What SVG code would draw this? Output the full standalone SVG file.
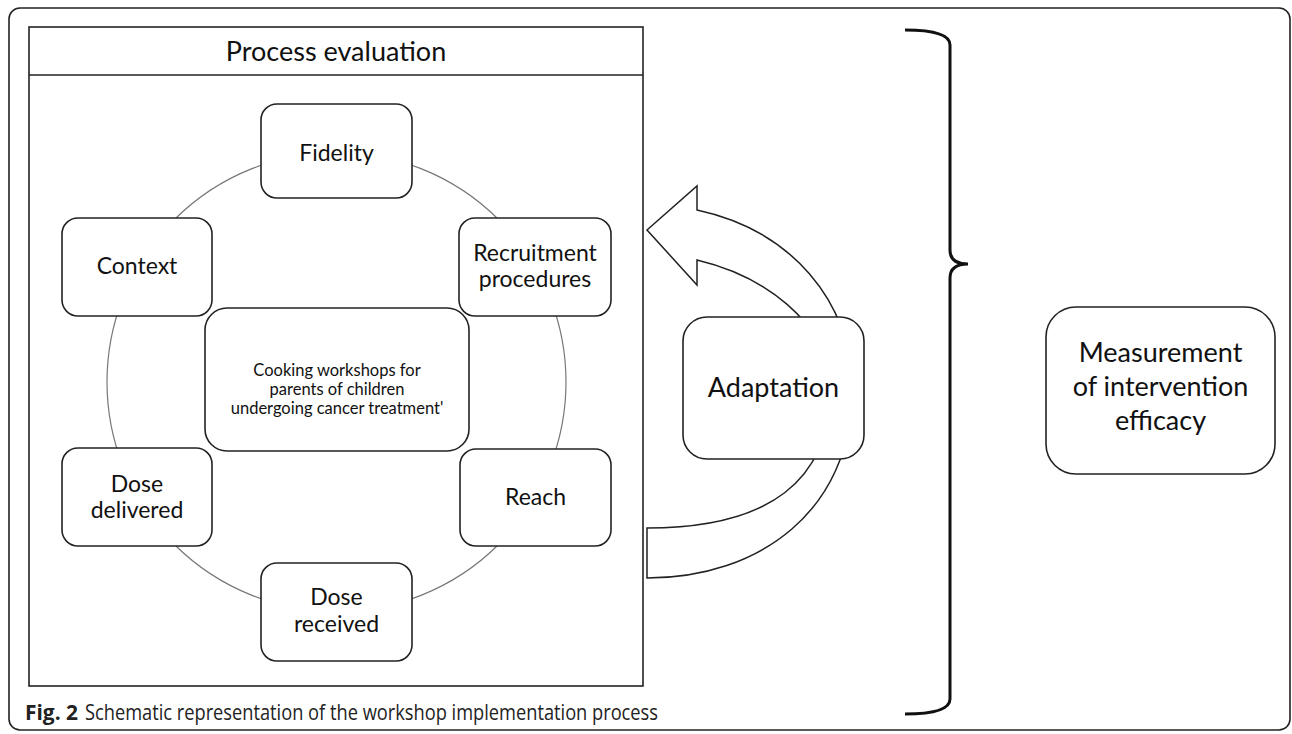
<svg xmlns="http://www.w3.org/2000/svg" width="1292" height="734" viewBox="0 0 1292 734">
<style>
.box{fill:#fff;stroke:#222;stroke-width:1.6}
.lbl{font-family:Lato,"Open Sans",sans-serif;fill:#111;text-anchor:middle}
.s23{font-size:23px}
.s27{font-size:27px}
.s16{font-size:16.5px}
.cap{font-family:"Open Sans","Noto Sans",sans-serif;font-size:21px;fill:#222}
</style>
<rect x="0" y="0" width="1292" height="734" fill="#fff"/>
<rect x="9" y="8" width="1281" height="722" rx="11" fill="none" stroke="#222" stroke-width="1.6"/>

<g id="process-evaluation">
<rect x="29" y="27" width="614" height="659" fill="#fff" stroke="#222" stroke-width="1.6"/>
<line x1="29" y1="75" x2="643" y2="75" stroke="#222" stroke-width="1.6"/>
<text class="lbl s27" x="336" y="61">Process evaluation</text>
</g>

<g id="connectors">
<circle cx="336.5" cy="382" r="229.5" fill="none" stroke="#777" stroke-width="1.2"/>
<path d="M647,578 C760,578 852,510 852,390 C852,300 790,230 697,210 L697,186 L647,230 L697,285 L697,260 C760,275 830,320 830,390 C830,480 770,528 647,528 Z" fill="#fff" stroke="#222" stroke-width="1.5" stroke-linejoin="miter"/>
<path d="M905,30 Q950,30 950,45 L950,250 Q950,264 968,264 Q950,264 950,278 L950,699 Q950,714 905,714" fill="none" stroke="#111" stroke-width="3"/>
</g>

<g id="fidelity">
<rect class="box" x="261" y="104" width="151" height="94" rx="16"/>
<text class="lbl s23" x="336.5" y="161">Fidelity</text>
</g>

<g id="context">
<rect class="box" x="62" y="218" width="150" height="98" rx="16"/>
<text class="lbl s23" x="137" y="274">Context</text>
</g>

<g id="recruitment">
<rect class="box" x="459" y="218" width="152" height="98" rx="16"/>
<text class="lbl s23" x="535" y="261">Recruitment</text>
<text class="lbl s23" x="535" y="287">procedures</text>
</g>

<g id="center">
<rect class="box" x="205" y="308" width="264" height="143" rx="22"/>
<text class="lbl s16" x="337" y="376">Cooking workshops for</text>
<text class="lbl s16" x="337" y="395">parents of children</text>
<text class="lbl s16" x="337" y="414">undergoing cancer treatment'</text>
</g>

<g id="reach">
<rect class="box" x="460" y="449" width="151" height="97" rx="16"/>
<text class="lbl s23" x="535.5" y="505">Reach</text>
</g>

<g id="dose-delivered">
<rect class="box" x="62" y="448" width="150" height="98" rx="16"/>
<text class="lbl s23" x="137" y="492">Dose</text>
<text class="lbl s23" x="137" y="518">delivered</text>
</g>

<g id="dose-received">
<rect class="box" x="261" y="563" width="151" height="98" rx="16"/>
<text class="lbl s23" x="336.5" y="605">Dose</text>
<text class="lbl s23" x="336.5" y="632">received</text>
</g>

<g id="adaptation">
<rect class="box" x="683" y="317" width="181" height="142" rx="24"/>
<text class="lbl s27" x="773.5" y="397">Adaptation</text>
</g>

<g id="measurement">
<rect class="box" x="1046" y="307" width="229" height="167" rx="30"/>
<text class="lbl s27" x="1160.5" y="362">Measurement</text>
<text class="lbl s27" x="1160.5" y="396">of intervention</text>
<text class="lbl s27" x="1160.5" y="430">efficacy</text>
</g>

<g id="caption">
<text class="cap" x="25" y="720" font-weight="bold" textLength="53" lengthAdjust="spacingAndGlyphs">Fig. 2</text>
<text class="cap" x="85" y="720" textLength="573" lengthAdjust="spacingAndGlyphs">Schematic representation of the workshop implementation process</text>
</g>
</svg>
